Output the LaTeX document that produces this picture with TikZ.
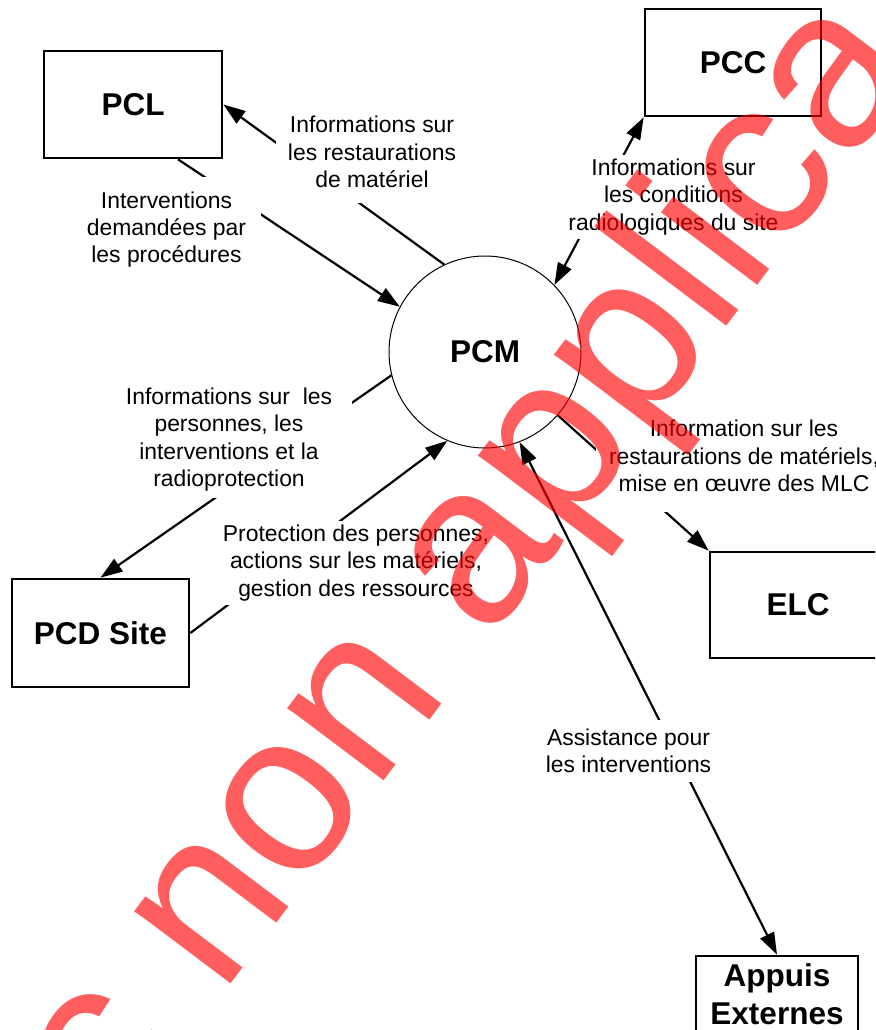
\documentclass[tikz,border=0pt]{standalone}
\usepackage{fontspec}
\setmainfont{Liberation Sans}
\usetikzlibrary{arrows.meta}
\newcommand{\flowfont}{\fontsize{22.9}{27.4}\selectfont}
\newcommand{\entityfont}{\fontsize{31.5}{38}\selectfont\bfseries}
\newcommand{\stampfont}{\fontsize{228}{228}\selectfont}
\begin{document}
\begin{tikzpicture}[x=1pt,y=-1pt,
  entity/.style={draw, rectangle, line width=2.7pt, inner sep=0pt, align=center, font=\entityfont},
  process/.style={draw, circle, line width=1pt, minimum size=192pt, inner sep=0pt, font=\entityfont},
  tip/.tip={Triangle[length=22pt,width=15pt]},
  flow/.style={line width=2.2pt, -tip},
  twoway/.style={line width=2.2pt, tip-tip},
  flowlabel/.style={fill=white, align=center, font=\flowfont},
  stamp/.style={rotate=53, anchor=base west, inner sep=0pt, text=red, text opacity=0.63, font=\stampfont}
]
\useasboundingbox (0,0) rectangle (875,1030);
\clip (0,0) rectangle (875,1030);

% external entities and the central process
\node[entity, minimum width=178pt, minimum height=107pt] (pcl) at (133,104.5) {PCL};
\node[entity, minimum width=176pt, minimum height=107pt] (pcc) at (733,62.5) {PCC};
\node[entity, minimum width=177pt, minimum height=108pt] (pcd) at (100.5,633) {PCD Site};
\node[entity, minimum width=176pt, minimum height=106pt] (elc) at (798,605) {ELC};
\node[entity, minimum width=162pt, minimum height=76pt] (appuis) at (777,994) {Appuis\\Externes};
\node[process] (pcm) at (485,352) {PCM};

% data flows
\draw[flow] (pcm.115.5) -- (pcl.east);
\draw[flow] ([xshift=45pt]pcl.south) -- (pcm.152.6);
\draw[twoway] (pcm.44.6) -- (pcc.south west);
\draw[flow] (pcm.194) -- (pcd.north);
\draw[flow] (pcd.east) -- (pcm.247);
\draw[flow] (pcm.-41.5) -- (elc.north west);
\draw[twoway] (pcm.291) -- (appuis.north);

% flow labels
\node[flowlabel, inner xsep=12pt, inner ysep=15pt] (l1) at (372,152) {Informations sur\\les restaurations\\de matériel};
\node[flowlabel, inner xsep=15pt, inner ysep=14.5pt] (l2) at (166.5,229.6) {Interventions\\demandées par\\les procédures};
\node[flowlabel, inner xsep=4pt, inner ysep=4pt] (l3) at (673.5,197) {Informations sur\\les conditions\\radiologiques du site};
\node[flowlabel, inner xsep=20pt, inner ysep=6.5pt] (l4) at (229,439.6) {Informations sur~ les\\personnes, les\\interventions et la\\radioprotection};
\node[flowlabel, inner xsep=6pt, inner ysep=4pt] (l5) at (356,563) {Protection des personnes,\\actions sur les matériels,\\gestion des ressources};
\node[flowlabel, inner xsep=13.5pt, inner ysep=20pt] (l6) at (744,456) {Information sur les\\restaurations de matériels,\\mise en œuvre des MLC};
\node[flowlabel, inner xsep=6pt, inner ysep=9pt] (l7) at (628.5,751) {Assistance pour\\les interventions};

% stamp across the sheet
\node[stamp] (stamp) at (115,1138) {c non applica};
\end{tikzpicture}
\end{document}
